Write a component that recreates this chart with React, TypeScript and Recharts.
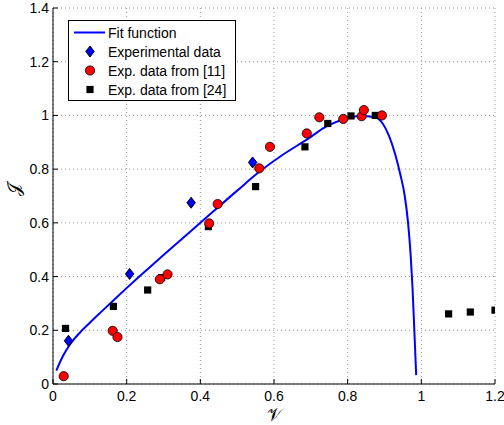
import {
  ComposedChart,
  Line,
  Scatter,
  XAxis,
  YAxis,
  CartesianGrid,
  Legend,
} from "recharts";

// fit curve
const fitX = [0.009, 0.027, 0.045, 0.072, 0.1, 0.136, 0.163, 0.199, 0.235, 0.272, 0.3, 0.4, 0.5, 0.56, 0.62, 0.689, 0.746, 0.788, 0.834, 0.874, 0.895, 0.912, 0.928, 0.943, 0.955, 0.964, 0.971, 0.976, 0.981, 0.986];
const fitY = [0.05, 0.104, 0.145, 0.19, 0.228, 0.275, 0.31, 0.356, 0.401, 0.446, 0.48, 0.6, 0.72, 0.79, 0.85, 0.91, 0.962, 0.985, 0.998, 0.993, 0.97, 0.925, 0.86, 0.78, 0.7, 0.6, 0.48, 0.36, 0.2, 0.033];

// experimental data (blue diamonds)
const expX = [0.042, 0.208, 0.375, 0.542];
const expY = [0.161, 0.41, 0.675, 0.825];

// data from [11] (red circles)
const ref11X = [0.029, 0.162, 0.175, 0.29, 0.311, 0.424, 0.447, 0.56, 0.589, 0.689, 0.723, 0.788, 0.838, 0.844, 0.893];
const ref11Y = [0.029, 0.198, 0.175, 0.39, 0.408, 0.598, 0.67, 0.803, 0.883, 0.933, 0.993, 0.987, 0.997, 1.02, 1.0];

// data from [24] (black squares)
const ref24X = [0.034, 0.164, 0.257, 0.295, 0.422, 0.55, 0.684, 0.746, 0.809, 0.875, 1.074, 1.133, 1.2];
const ref24Y = [0.207, 0.289, 0.35, 0.396, 0.586, 0.735, 0.883, 0.97, 0.998, 1.0, 0.261, 0.268, 0.275];

const xTicks = [0, 0.2, 0.4, 0.6, 0.8, 1, 1.2];
const yTicks = [0, 0.2, 0.4, 0.6, 0.8, 1, 1.2, 1.4];

const zip = (xs: number[], ys: number[]) => xs.map((x, i) => ({ x, y: ys[i] }));

const fit = zip(fitX, fitY);
const exp = zip(expX, expY);
const ref11 = zip(ref11X, ref11Y);
const ref24 = zip(ref24X, ref24Y);

const font = "'Liberation Sans', Arial, sans-serif";

const Diamond = ({ cx, cy }: any) => (
  <path
    d={`M${cx},${cy - 5.5} L${cx + 4.2},${cy} L${cx},${cy + 5.5} L${cx - 4.2},${cy} Z`}
    fill="#0000ff"
    stroke="#000"
    strokeWidth={1}
  />
);

const Circle = ({ cx, cy }: any) => (
  <circle cx={cx} cy={cy} r={4.6} fill="#ff0000" stroke="#000" strokeWidth={0.8} />
);

const Square = ({ cx, cy }: any) => (
  <rect x={cx - 3.6} y={cy - 3.6} width={7.2} height={7.2} fill="#000" />
);

const legendRows = [
  { label: "Fit function", kind: "line" },
  { label: "Experimental data", kind: "diamond" },
  { label: "Exp. data from [11]", kind: "circle" },
  { label: "Exp. data from [24]", kind: "square" },
];

function LegendBox() {
  return (
    <div
      style={{
        width: 166,
        height: 77,
        border: "1px solid #000",
        background: "#fff",
        fontFamily: font,
        fontSize: 14,
        color: "#000",
        paddingTop: 2,
        boxSizing: "content-box",
      }}
    >
      {legendRows.map((r) => (
        <div key={r.label} style={{ display: "flex", alignItems: "center", height: 19 }}>
          <svg width={39} height={19} style={{ flex: "none" }}>
            {r.kind === "line" && <line x1={5} y1={9.5} x2={36} y2={9.5} stroke="#0000ff" strokeWidth={2} />}
            {r.kind === "diamond" && <Diamond cx={21} cy={9.5} />}
            {r.kind === "circle" && <Circle cx={21} cy={9.5} />}
            {r.kind === "square" && <Square cx={21} cy={9.5} />}
          </svg>
          <span style={{ whiteSpace: "nowrap" }}>{r.label}</span>
        </div>
      ))}
    </div>
  );
}

export default function App() {
  return (
    <div style={{ position: "absolute", left: 0, top: 0, width: 504, height: 425, background: "#fff" }}>
      <ComposedChart width={504} height={425} margin={{ top: 8, right: 9, bottom: 0, left: 0 }}>
        <CartesianGrid stroke="#999" strokeDasharray="1 3" horizontal vertical />
        <XAxis
          dataKey="x"
          type="number"
          domain={[0, 1.2]}
          ticks={xTicks}
          allowDataOverflow
          height={41}
          stroke="#000"
          tickSize={-5}
          tickMargin={12}
          tick={{ fill: "#000", fontSize: 14, fontFamily: font }}
          label={{ value: "𝒱", position: "insideBottom", offset: 4, fontSize: 18, fontFamily: "'DejaVu Serif', serif", fill: "#000" }}
        />
        <XAxis
          xAxisId="top"
          orientation="top"
          type="number"
          domain={[0, 1.2]}
          ticks={xTicks}
          height={0}
          stroke="#000"
          tickSize={-5}
          tick={false}
        />
        <YAxis
          dataKey="y"
          type="number"
          domain={[0, 1.4]}
          ticks={yTicks}
          allowDataOverflow
          width={53}
          stroke="#000"
          tickSize={-5}
          tickMargin={9}
          tick={{ fill: "#000", fontSize: 14, fontFamily: font }}
          label={{ value: "𝒥", angle: -90, position: "insideLeft", offset: 14, fontSize: 18, fontFamily: "'DejaVu Serif', serif", fill: "#000" }}
        />
        <YAxis
          yAxisId="right"
          orientation="right"
          type="number"
          domain={[0, 1.4]}
          ticks={yTicks}
          width={0}
          stroke="#000"
          tickSize={-5}
          tick={false}
        />
        <Line
          data={fit}
          dataKey="y"
          type="monotone"
          stroke="#0000ff"
          strokeWidth={2}
          dot={false}
          activeDot={false}
          isAnimationActive={false}
        />
        <Scatter data={ref24} dataKey="y" shape={<Square />} isAnimationActive={false} />
        <Scatter data={ref11} dataKey="y" shape={<Circle />} isAnimationActive={false} />
        <Scatter data={exp} dataKey="y" shape={<Diamond />} isAnimationActive={false} />
        <Legend
          layout="vertical"
          align="center"
          verticalAlign="middle"
          content={() => <LegendBox />}
          wrapperStyle={{ top: 20, left: 68, width: 168, height: 79 }}
        />
      </ComposedChart>
    </div>
  );
}
